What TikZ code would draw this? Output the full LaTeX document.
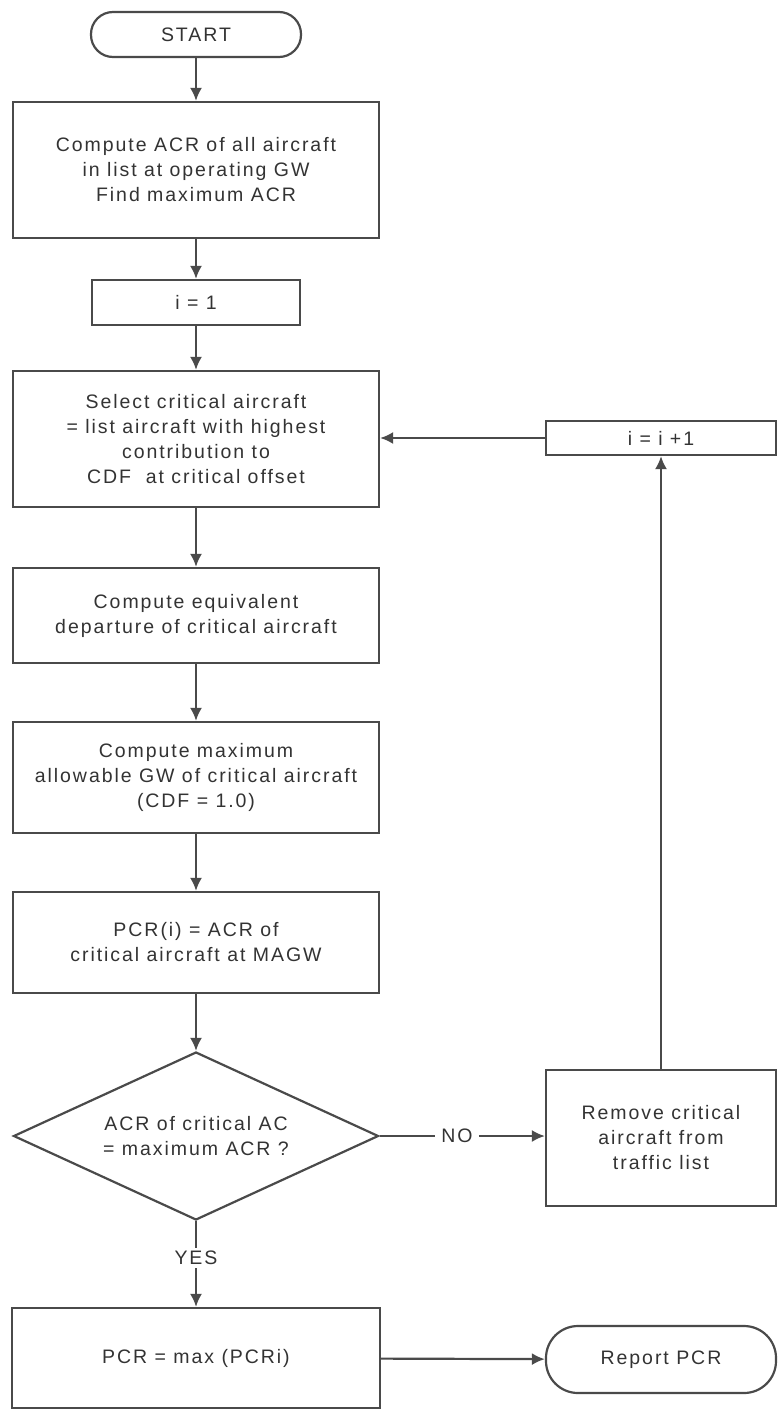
\documentclass[tikz,border=0pt]{standalone}
\usepackage{fontspec}
\setmainfont{Liberation Sans}[LetterSpace=10]
\usetikzlibrary{shapes.geometric,arrows.meta}
\definecolor{boxline}{HTML}{4A4A4A}
\definecolor{boxtext}{HTML}{333333}
\begin{document}
\begin{tikzpicture}[x=1pt,y=1pt,
    >={Latex[length=13pt,width=12pt]},
    flow/.style={draw=boxline,line width=2.2pt,align=center,inner sep=0pt,
        text=boxtext,font=\fontsize{19.5pt}{25pt}\selectfont},
    flowbox/.style={flow,rectangle},
    terminal/.style={flow,rectangle,rounded corners=#1},
    decision/.style={flow,diamond,aspect=2.17},
    flowlabel/.style={inner sep=3pt,text=boxtext,font=\fontsize{19.5pt}{25pt}\selectfont},
    link/.style={draw=boxline,line width=2.2pt}]
\newcommand\midx{196}
\newcommand\sidex{661}
\useasboundingbox (0, 0) rectangle (778, -1410);
\fill [color=white] (0, 0) rectangle (778, -1410);

% main column
\node (start) at (\midx, -34.5) [terminal=22pt, minimum width=210pt, minimum height=45pt] {START};
\node (acr) at (\midx, -170) [flowbox, minimum width=366pt, minimum height=136pt]
    {Compute ACR of all aircraft\\ in list at operating GW\\ Find maximum ACR};
\node (init) at (\midx, -302.5) [flowbox, minimum width=208pt, minimum height=45pt] {i = 1};
\node (select) at (\midx, -439) [flowbox, minimum width=366pt, minimum height=136pt]
    {Select critical aircraft\\ = list aircraft with highest\\ contribution to\\ CDF\ \ at critical offset};
\node (equiv) at (\midx, -615.5) [flowbox, minimum width=366pt, minimum height=95pt]
    {Compute equivalent\\ departure of critical aircraft};
\node (magw) at (\midx, -777.5) [flowbox, minimum width=366pt, minimum height=111pt]
    {Compute maximum\\ allowable GW of critical aircraft\\ (CDF = 1.0)};
\node (pcri) at (\midx, -942.5) [flowbox, minimum width=366pt, minimum height=101pt]
    {PCR(i) = ACR of\\ critical aircraft at MAGW};
\node (check) at (\midx, -1136) [decision, minimum width=365pt, minimum height=168pt]
    {ACR of critical AC\\ = maximum ACR ?};
\node (yes) at (\midx, -1258) [flowlabel] {YES};
\node (pcrmax) at (\midx, -1358) [flowbox, minimum width=368pt, minimum height=100pt]
    {PCR = max (PCRi)};

% side column
\node (incr) at (\sidex, -438) [flowbox, minimum width=230pt, minimum height=34pt] {i = i +1};
\node (no) at (457, -1136) [flowlabel, inner sep=6pt] {NO};
\node (remove) at (\sidex, -1138) [flowbox, minimum width=230pt, minimum height=136pt]
    {Remove critical\\ aircraft from\\ traffic list};
\node (report) at (\sidex, -1359.5) [terminal=32pt, minimum width=230pt, minimum height=67pt] {Report PCR};

% connectors
\draw [link, ->] (start) -- (acr);
\draw [link, ->] (acr) -- (init);
\draw [link, ->] (init) -- (select);
\draw [link, ->] (select) -- (equiv);
\draw [link, ->] (equiv) -- (magw);
\draw [link, ->] (magw) -- (pcri);
\draw [link, ->] (pcri) -- (check);
\draw [link] (check) -- (yes);
\draw [link, ->] (yes) -- (pcrmax);
\draw [link] (check.east) -- (no);
\draw [link, ->] (no) -- (remove.west |- no);
\draw [link, ->] (remove.north -| incr.south) -- (incr.south);
\draw [link, ->] (incr.west) -- (select.east |- incr.west);
\draw [link, ->] (pcrmax) -- (report);
\end{tikzpicture}
\end{document}
